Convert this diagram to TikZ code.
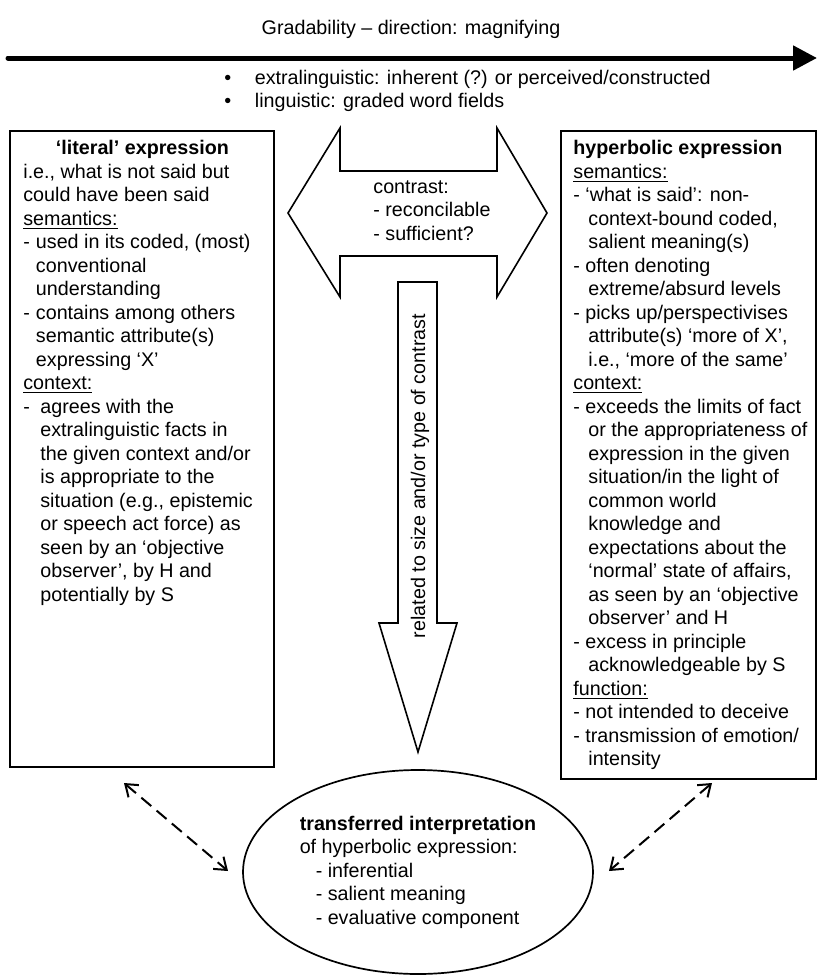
\documentclass[tikz,border=0pt]{standalone}
\usepackage{fontspec}
\setmainfont{Liberation Sans}
\usetikzlibrary{arrows.meta,shapes.geometric}
\newcommand{\itm}{\makebox[6.3pt][l]{-}}
\newcommand{\ind}{\hspace*{6.3pt}}
\newcommand{\itmb}{\makebox[8.5pt][l]{-}}
\newcommand{\indb}{\hspace*{8.5pt}}
\newcommand{\indr}{\hspace*{7.5pt}}
\begin{document}
\begin{tikzpicture}[x=0.5pt,y=-0.5pt,
  every node/.style={font=\fontsize{9.85}{11.75}\selectfont, inner sep=0pt},
  box/.style={draw, line width=0.85pt, rectangle},
  txt/.style={align=left, anchor=north west},
  bigarrow/.style={draw, line width=0.8pt, line join=miter},
  dasharrow/.style={line width=1pt, dash pattern=on 6.5pt off 3.5pt,
    {Straight Barb[length=5.5pt,width=8pt]}-{Straight Barb[length=5.5pt,width=8pt]}}]
\useasboundingbox (0,0) rectangle (818,976);
% gradability scale
\node[anchor=base] (gradtitle) at (411,34) {Gradability -- direction: magnifying};
\coordinate (gradstart) at (8,58);
\coordinate (gradend) at (817,58);
\draw[line width=2.5pt, line cap=round, -{Triangle[length=12pt,width=12pt]}] (gradstart) -- (gradend);
\node[txt] (gradlist) at (224,69.5) {\makebox[15.25pt][l]{\textbullet}extralinguistic: inherent (?) or perceived/constructed\\
  \makebox[15.25pt][l]{\textbullet}linguistic: graded word fields};
% literal expression
\node[box, minimum width=132pt, minimum height=318pt] (litbox) at (142,449) {};
\node[txt] (littext) at (23,140) {\makebox[119pt]{\bfseries ‘literal’ expression}\\
  i.e., what is not said but\\
  could have been said\\
  \underline{semantics:}\\
  \itm used in its coded, (most)\\
  \ind conventional\\
  \ind understanding\\
  \itm contains among others\\
  \ind semantic attribute(s)\\
  \ind expressing ‘X’\\
  \underline{context:}\\
  \itmb agrees with the\\
  \indb extralinguistic facts in\\
  \indb the given context and/or\\
  \indb is appropriate to the\\
  \indb situation (e.g., epistemic\\
  \indb or speech act force) as\\
  \indb seen by an ‘objective\\
  \indb observer’, by H and\\
  \indb potentially by S};
% hyperbolic expression
\node[box, minimum width=127.5pt, minimum height=324pt] (hypbox) at (688.5,455) {};
\node[txt] (hyptext) at (573,140) {\textbf{hyperbolic expression}\\
  \underline{semantics:}\\
  - ‘what is said’: non-\\
  \indr context-bound coded,\\
  \indr salient meaning(s)\\
  - often denoting\\
  \indr extreme/absurd levels\\
  - picks up/perspectivises\\
  \indr attribute(s) ‘more of X’,\\
  \indr i.e., ‘more of the same’\\
  \underline{context:}\\
  - exceeds the limits of fact\\
  \indr or the appropriateness of\\
  \indr expression in the given\\
  \indr situation/in the light of\\
  \indr common world\\
  \indr knowledge and\\
  \indr expectations about the\\
  \indr ‘normal’ state of affairs,\\
  \indr as seen by an ‘objective\\
  \indr observer’ and H\\
  - excess in principle\\
  \indr acknowledgeable by S\\
  \underline{function:}\\
  - not intended to deceive\\
  - transmission of emotion/\\
  \indr intensity};
% contrast arrow
\draw[bigarrow] (288,213) -- (340,128) -- (340,171) -- (497,171) -- (497,128) -- (547,213)
  -- (497,297) -- (497,256) -- (340,256) -- (340,297) -- cycle;
\node[txt] (contrast) at (373,180) {contrast:\\ - reconcilable\\ - sufficient?};
% size arrow
\draw[bigarrow] (398,282) -- (437,282) -- (437,623) -- (457,623) -- (418,752)
  -- (379,623) -- (398,623) -- cycle;
\node[rotate=90] (sizetext) at (420,476) {related to size and/or type of contrast};
% transferred interpretation
\node[draw, ellipse, line width=0.85pt, minimum width=175pt, minimum height=102pt, align=left] (transell) at (418,872)
  {\textbf{transferred interpretation}\\ of hyperbolic expression:\\
   \hspace*{8pt}- inferential\\ \hspace*{8pt}- salient meaning\\ \hspace*{8pt}- evaluative component};
\coordinate (litend) at (124,783);
\coordinate (transleft) at (228,871);
\coordinate (hypend) at (712,783);
\coordinate (transright) at (609,871);
\draw[dasharrow] (litend) -- (transleft);
\draw[dasharrow] (hypend) -- (transright);
\end{tikzpicture}
\end{document}
